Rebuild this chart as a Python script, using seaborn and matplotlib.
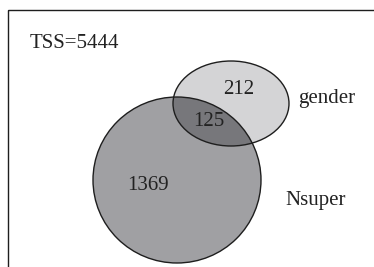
import numpy as np
import seaborn as sns
import matplotlib.pyplot as plt
from matplotlib.patches import Ellipse, Rectangle

sns.set_theme(style='white')
plt.rcParams['font.family'] = ['Liberation Serif', 'DejaVu Serif']

SET_NAMES = ['Nsuper', 'gender']
ONLY_COUNTS = [1369, 212]
BOTH_COUNT = 125
TOTAL = 5444

FILL_COLORS = ['#a0a0a3', '#d4d4d6']
BOTH_COLOR = '#77777b'
EDGE = '#1e1e1e'
FS = 15

# shape geometry in pixel space
SHAPES = [
    dict(xy=(177, 180), w=168, h=166),
    dict(xy=(231, 103.5), w=116, h=85),
]


def draw_venn(ax):
    big = Ellipse(SHAPES[0]['xy'], SHAPES[0]['w'], SHAPES[0]['h'],
                  facecolor=FILL_COLORS[0], edgecolor='none')
    small = Ellipse(SHAPES[1]['xy'], SHAPES[1]['w'], SHAPES[1]['h'],
                    facecolor=FILL_COLORS[1], edgecolor='none')
    ax.add_patch(big)
    ax.add_patch(small)
    inter = Ellipse(SHAPES[1]['xy'], SHAPES[1]['w'], SHAPES[1]['h'],
                    facecolor=BOTH_COLOR, edgecolor='none')
    ax.add_patch(inter)
    inter.set_clip_path(big)
    for s in SHAPES:
        ax.add_patch(Ellipse(s['xy'], s['w'], s['h'], facecolor='none',
                             edgecolor=EDGE, lw=1.0))

    kw = dict(va='center', fontsize=FS, color='#222')
    ax.text(148, 186, str(ONLY_COUNTS[0]), ha='center', **kw)
    ax.text(239, 89, str(ONLY_COUNTS[1]), ha='center', **kw)
    ax.text(209, 121, str(BOTH_COUNT), ha='center', **kw)
    ax.text(298, 98, SET_NAMES[1], ha='left', **kw)
    ax.text(285, 200, SET_NAMES[0], ha='left', **kw)
    ax.text(30, 43, 'TSS={}'.format(TOTAL), ha='left', **kw)


fig = plt.figure(figsize=(3.74, 2.67), dpi=100)
ax = fig.add_axes([0, 0, 1, 1])
ax.set_xlim(0, 374)
ax.set_ylim(267, 0)
ax.axis('off')
ax.add_patch(Rectangle((8, 10), 400, 300, fill=False, edgecolor=EDGE, lw=1.0))
draw_venn(ax)
fig.savefig('out.png', dpi=100, facecolor='white')
